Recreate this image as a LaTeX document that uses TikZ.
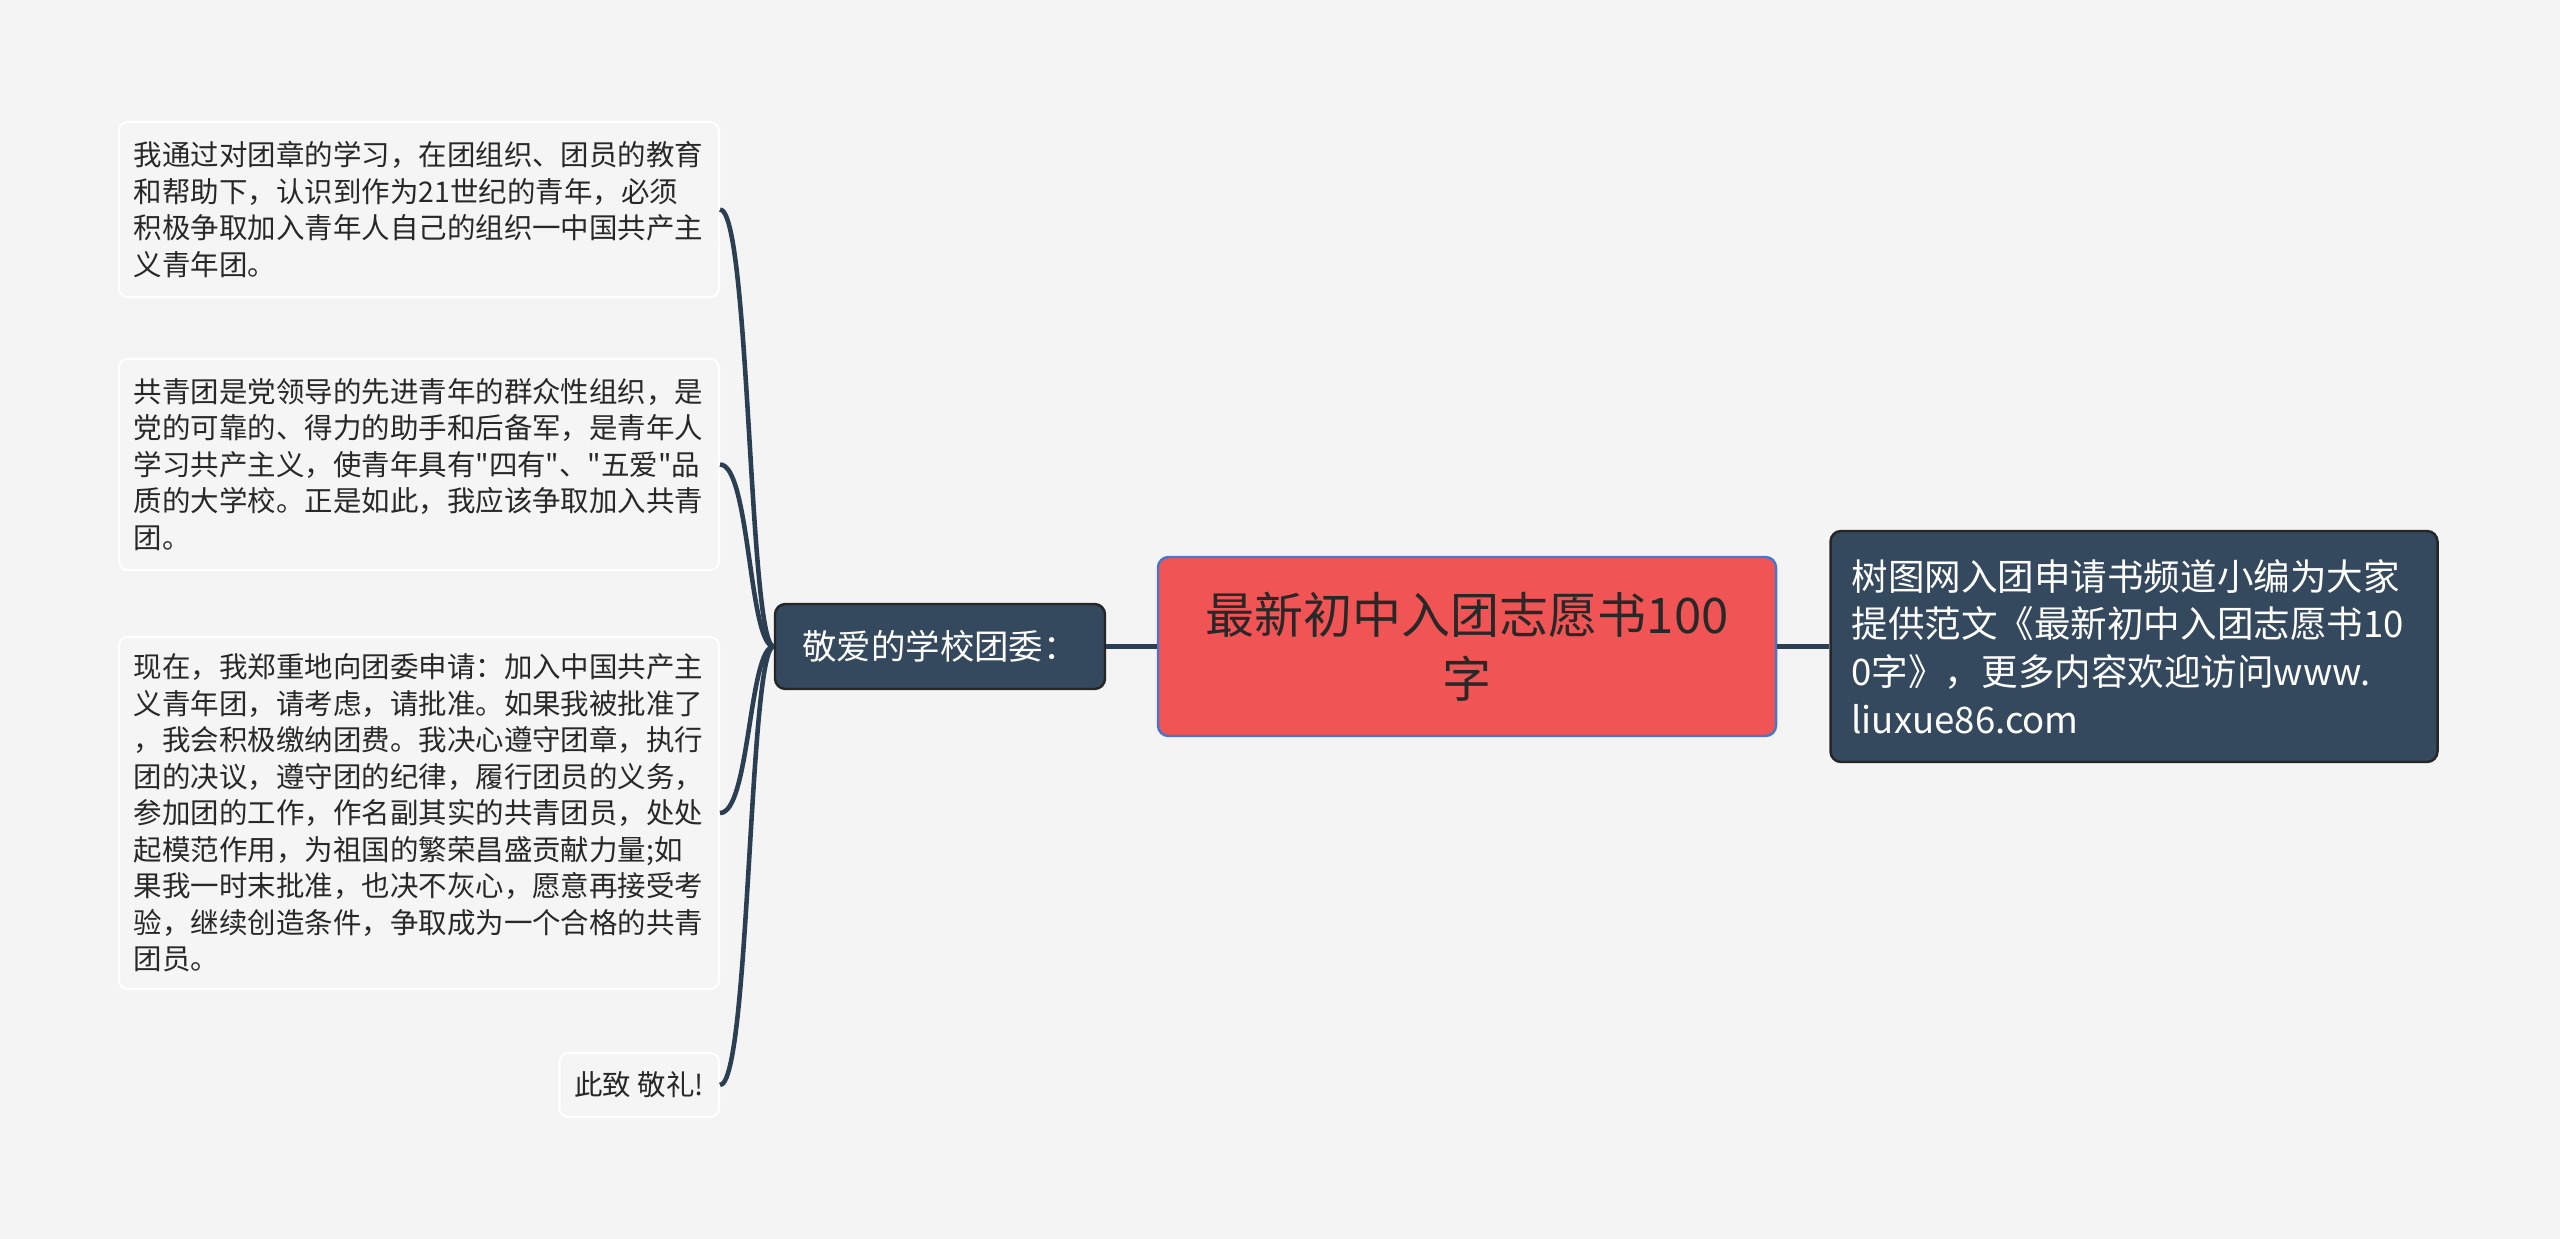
\documentclass[tikz,border=0pt]{standalone}
\usepackage{fontspec}
\setmainfont{Noto Sans CJK SC}[Ligatures=TeXOff]
\usepackage{xcolor}
\usepackage{tikz}
\usetikzlibrary{positioning, calc}
\definecolor{mybg}{RGB}{244,244,244}
\definecolor{myleaf}{RGB}{245,245,245}
\definecolor{mynavy}{RGB}{52,72,94}
\definecolor{myline}{RGB}{44,62,82}
\definecolor{myred}{RGB}{240,84,84}
\definecolor{myblue}{RGB}{72,118,206}
\definecolor{mytext}{RGB}{40,40,40}
\tikzset{
  leafbox/.style={rectangle, draw=white, fill=myleaf, text=mytext,
    text width=11.4cm, align=left, inner xsep=0.3cm, inner ysep=0.2cm,
    font=\fontsize{16.2}{20.8}\selectfont, rounded corners=5pt, line width=1.2pt},
  branchbox/.style={rectangle, draw=black!85, fill=mynavy, text=white,
    minimum width=6.6cm, minimum height=1.7cm, align=center,
    font=\fontsize{19.6}{26}\selectfont, rounded corners=6pt, line width=1.4pt},
  rootbox/.style={rectangle, draw=myblue, fill=myred, text=mytext,
    minimum width=12.36cm, minimum height=3.58cm, align=center,
    font=\fontsize{27.9}{36.3}\selectfont, rounded corners=6pt, line width=1.4pt},
  notebox/.style={rectangle, draw=black!85, fill=mynavy, text=white,
    text width=11.3cm, align=left, inner xsep=0.42cm,
    minimum height=4.62cm, font=\fontsize{20.8}{27.2}\selectfont,
    rounded corners=6pt, line width=1.4pt},
  link/.style={line width=2.6pt, color=myline}
}

\begin{document}
\begin{tikzpicture}
  \fill[mybg] (0,0) rectangle (51.2,-24.78);

  \node[rootbox] (root) at (29.34,-12.93) {最新初中入团志愿书100\\字};
  \node[branchbox] (dear) at (18.8,-12.93) {敬爱的学校团委：};
  \node[notebox] (note) at (42.68,-12.93)
    {树图网入团申请书频道小编为大家\\提供范文《最新初中入团志愿书10\\0字》，更多内容欢迎访问www.\\liuxue86.com};

  \node[leafbox, anchor=east, minimum height=3.5cm] (study) at (14.4,-4.19)
    {我通过对团章的学习，在团组织、团员的教育\\和帮助下，认识到作为21世纪的青年，必须\\积极争取加入青年人自己的组织一中国共产主\\义青年团。};
  \node[leafbox, anchor=east, minimum height=4.22cm] (league) at (14.4,-9.29)
    {共青团是党领导的先进青年的群众性组织，是\\党的可靠的、得力的助手和后备军，是青年人\\学习共产主义，使青年具有"四有"、"五爱"品\\质的大学校。正是如此，我应该争取加入共青\\团。};
  \node[leafbox, anchor=east, minimum height=7.04cm] (apply) at (14.4,-16.26)
    {现在，我郑重地向团委申请：加入中国共产主\\义青年团，请考虑，请批准。如果我被批准了\\，我会积极缴纳团费。我决心遵守团章，执行\\团的决议，遵守团的纪律，履行团员的义务，\\参加团的工作，作名副其实的共青团员，处处\\起模范作用，为祖国的繁荣昌盛贡献力量;如\\果我一时末批准，也决不灰心，愿意再接受考\\验，继续创造条件，争取成为一个合格的共青\\团员。};
  \node[leafbox, anchor=east, text width=, minimum height=1.28cm] (salute) at (14.4,-21.7) {此致 敬礼!};

  \draw[link] (dear.east) -- (root.west);
  \draw[link] (root.east) -- (note.west);
  \foreach \leaf in {study, league, apply, salute}
    \draw[link] (dear.west) .. controls ($(dear.west)+(-0.5,0)$) and ($(\leaf.east)+(0.6,0)$) .. (\leaf.east);
\end{tikzpicture}
\end{document}
